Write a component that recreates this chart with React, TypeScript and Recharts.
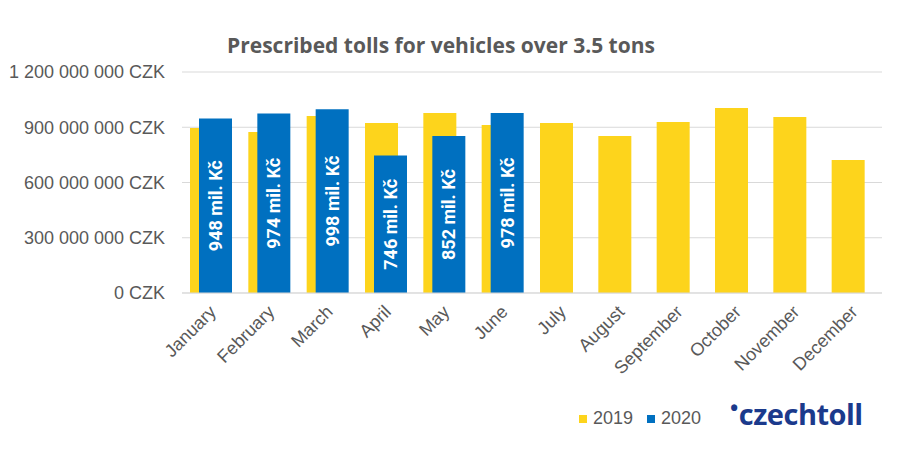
import { BarChart, Bar, XAxis, YAxis, CartesianGrid, LabelList } from 'recharts';

// Prescribed tolls for vehicles over 3.5 tons (CZK)
const months = [
  'January', 'February', 'March', 'April', 'May', 'June',
  'July', 'August', 'September', 'October', 'November', 'December',
];
const tolls2019 = [
  896e6, 874e6, 961e6, 923e6, 977e6, 912e6,
  923e6, 852e6, 928e6, 1005e6, 956e6, 722e6,
];
const tolls2020 = [948e6, 974e6, 998e6, 746e6, 852e6, 978e6];
const yTicks = [0, 300e6, 600e6, 900e6, 1200e6];
const seriesNames = ['2019', '2020'];

const YELLOW = '#FDD41C';
const BLUE = '#0070C0';
const GREY = '#595959';
const ARIAL = "'Liberation Sans', Arial, sans-serif";

const data = months.map((m, i) => ({
  month: m,
  y2019: tolls2019[i],
  y2020: tolls2020[i] ?? null,
}));

const formatCzk = (v: number) =>
  `${v.toLocaleString('en-US').replace(/,/g, ' ')} CZK`;

const MonthTick = (props: any) => {
  const { x, y, payload } = props;
  return (
    <g transform={`translate(${x + 6},${y + 12})`}>
      <text x={0} y={0} textAnchor="end" transform="rotate(-45)" fill={GREY} fontSize={18} fontFamily={ARIAL}>
        {payload.value}
      </text>
    </g>
  );
};

const CzkTick = (props: any) => {
  const { x, y, payload } = props;
  return (
    <text x={x} y={y} dy="0.36em" textAnchor="end" fill={GREY} fontSize={18} fontFamily={ARIAL}>
      {formatCzk(payload.value)}
    </text>
  );
};

// vertical value text in the middle of the 2020 bars
const VerticalLabel = (props: any) => {
  const { x, y, width, height, value } = props;
  if (value == null) return null;
  const cx = x + width / 2;
  const cy = y + height / 2;
  return (
    <text
      x={cx}
      y={cy}
      transform={`rotate(-90, ${cx}, ${cy})`}
      textAnchor="middle"
      dominantBaseline="central"
      fill="#fff"
      fontSize={18}
      fontWeight="bold"
      fontFamily="Roboto, sans-serif"
    >
      {`${Math.round(value / 1e6)} mil. Kč`}
    </text>
  );
};

export default function App() {
  return (
    <div style={{ position: 'relative', width: 884, height: 437, background: '#fff' }}>
      {/* title */}
      <div
        style={{
          position: 'absolute',
          left: 0,
          top: 23,
          width: 866,
          textAlign: 'center',
          fontFamily: "'Open Sans', sans-serif",
          fontWeight: 'bold',
          fontSize: 21,
          color: GREY,
        }}
      >
        Prescribed tolls for vehicles over 3.5 tons
      </div>

      <BarChart
        width={884}
        height={437}
        data={data}
        margin={{ top: 64, right: 10, bottom: 92, left: 0 }}
        barSize={33}
        barGap={-24}
      >
        <CartesianGrid vertical={false} stroke="#D9D9D9" />
        <XAxis
          dataKey="month"
          axisLine={{ stroke: '#D9D9D9' }}
          tickLine={false}
          interval={0}
          height={60}
          tick={<MonthTick />}
        />
        <YAxis
          width={174}
          domain={[0, 1200e6]}
          ticks={yTicks}
          axisLine={false}
          tickLine={false}
          tickSize={0}
          tickMargin={17}
          tick={<CzkTick />}
        />
        <Bar dataKey="y2019" name={seriesNames[0]} fill={YELLOW} isAnimationActive={false} />
        <Bar dataKey="y2020" name={seriesNames[1]} fill={BLUE} isAnimationActive={false}>
          <LabelList dataKey="y2020" content={<VerticalLabel />} />
        </Bar>
      </BarChart>

      {/* legend */}
      <div
        style={{
          position: 'absolute',
          left: 571,
          top: 400,
          display: 'flex',
          alignItems: 'center',
          fontFamily: ARIAL,
          fontSize: 18,
          color: GREY,
        }}
      >
        {seriesNames.map((name, i) => (
          <div key={name} style={{ display: 'flex', alignItems: 'center', marginRight: 14 }}>
            <span
              style={{
                display: 'inline-block',
                width: 8,
                height: 8,
                background: i === 0 ? YELLOW : BLUE,
                marginRight: 6,
              }}
            />
            {name}
          </div>
        ))}
      </div>

      {/* logo */}
      <div
        style={{
          position: 'absolute',
          left: 722,
          top: 386,
          fontFamily: "'Open Sans', sans-serif",
          fontWeight: 'bold',
          fontSize: 29,
          color: '#1B3A8C',
          letterSpacing: -0.5,
        }}
      >
        <span style={{ fontSize: 22, position: 'relative', top: -9, marginRight: 1 }}>•</span>
        czechtoll
      </div>
    </div>
  );
}
